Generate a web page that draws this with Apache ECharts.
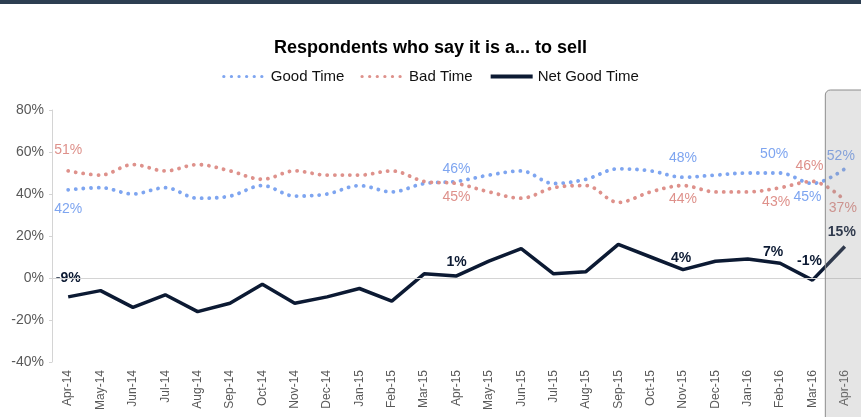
<!DOCTYPE html>
<html>
<head>
<meta charset="utf-8">
<script src="https://cdn.jsdelivr.net/npm/echarts@6/dist/echarts.min.js"></script>
<style>
html,body{margin:0;padding:0;background:#fff;}
#chart{width:861px;height:417px;}
</style>
</head>
<body>
<div id="chart"></div>
<script>
var categories = ['Apr-14','May-14','Jun-14','Jul-14','Aug-14','Sep-14','Oct-14','Nov-14','Dec-14','Jan-15','Feb-15','Mar-15','Apr-15','May-15','Jun-15','Jul-15','Aug-15','Sep-15','Oct-15','Nov-15','Dec-15','Jan-16','Feb-16','Mar-16','Apr-16'];
var goodTime = [42,43,40,43,38,39,44,39,40,44,41,45,46,49,51,45,47,52,51,48,49,50,50,45,52];
var badTime  = [51,49,54,51,54,51,47,51,49,49,51,46,45,41,38,43,44,36,41,44,41,41,43,46,37];
var netGood  = [-9,-6,-14,-8,-16,-12,-3,-12,-9,-5,-11,2,1,8,14,2,3,16,10,4,8,9,7,-1,15];
var yTicks = [-40,-20,0,20,40,60,80];
var labeledIdx = [0,12,19,22,23,24];

var FONT = '"Liberation Sans", Arial, sans-serif';
var BLUE = '#7ea5f0', RED = '#de918b', NAVY = '#0c1a33';

// label placement per labeled index: [position, distance, xOffset]
var goodPos = {0:['bottom',12,0],12:['top',5,0],19:['top',12,0],22:['top',11,-6],23:['bottom',6,-5],24:['top',5,-4]};
var badPos  = {0:['top',13,0],12:['bottom',6,0],19:['bottom',6,0],22:['bottom',7,-4],23:['top',8,-3],24:['bottom',0,-2]};
var netPos  = {0:['top',11,0],12:['top',6,0],19:['top',4,-2],22:['top',4,-7],23:['top',11,-3],24:['top',7,-3]};

function buildData(values, posMap, color, bold){
  return values.map(function(v,i){
    if(labeledIdx.indexOf(i) < 0) return v;
    var p = posMap[i];
    return {value:v, label:{show:true, position:p[0], distance:p[1], offset:[p[2],0],
      formatter:function(d){return d.value+'%';}, color:color, fontSize:14,
      fontWeight: bold?'bold':'normal', fontFamily:FONT}};
  });
}

function lineSeries(name, values, posMap, color, bold, lineStyle, smooth, z){
  return {name:name, type:'line', data:buildData(values, posMap, color, bold), smooth:smooth,
    symbol:'circle', symbolSize:1, showSymbol:true, showAllSymbol:true,
    itemStyle:{color:'rgba(0,0,0,0)', borderWidth:0},
    lineStyle:lineStyle, z:z, emphasis:{disabled:true}};
}

var chart = echarts.init(document.getElementById('chart'), null, {renderer:'canvas'});
var dotted = function(c){ return {color:c, width:3.8, type:[0.1,7.5], cap:'round'}; };
var sGood = lineSeries('Good Time', goodTime, goodPos, BLUE, false, dotted(BLUE), 0.35, 3);
sGood.markLine = {silent:true, symbol:'none', label:{show:false},
  lineStyle:{color:'#d4d4d4', width:1, type:'solid'}, data:[{yAxis:0}]};
var sBad = lineSeries('Bad Time', badTime, badPos, RED, false, dotted(RED), 0.35, 3);
var sNet = lineSeries('Net Good Time', netGood, netPos, NAVY, true, {color:NAVY, width:3.5}, false, 4);

var option = {
  animation:false,
  backgroundColor:'#fff',
  title:{text:'Respondents who say it is a... to sell', left:'center', top:34,
    textStyle:{fontFamily:FONT, fontSize:18, fontWeight:'bold', color:'#000'}},
  legend:{top:64, left:'center', itemWidth:42, itemHeight:8, itemGap:16,
    textStyle:{fontFamily:FONT, fontSize:15, color:'#111'},
    data:[
      {name:'Good Time', itemStyle:{opacity:0}, lineStyle:{color:BLUE, width:3.2, type:[0.1,7.5], cap:'round'}},
      {name:'Bad Time', itemStyle:{opacity:0}, lineStyle:{color:RED, width:3.2, type:[0.1,7.5], cap:'round'}},
      {name:'Net Good Time', itemStyle:{opacity:0}, lineStyle:{color:NAVY, width:4, type:'solid'}}
    ]},
  grid:{left:52, top:110, width:810, height:252, containLabel:false},
  xAxis:{type:'category', data:categories, boundaryGap:true,
    axisLine:{show:false}, axisTick:{show:false},
    axisLabel:{rotate:90, fontFamily:FONT, fontSize:12, color:'#595959', margin:8, interval:0}},
  yAxis:{type:'value', min:yTicks[0], max:yTicks[yTicks.length-1], interval:20,
    axisLine:{show:true, lineStyle:{color:'#d4d4d4'}},
    axisTick:{show:true, length:3, lineStyle:{color:'#d4d4d4'}},
    splitLine:{show:false},
    axisLabel:{formatter:'{value}%', fontFamily:FONT, fontSize:14, color:'#595959', margin:8}},
  series:[sGood, sBad, sNet]
};
chart.setOption(option);

// highlight box around last category + top bar
var last = categories.length-1;
var cx = chart.convertToPixel({xAxisIndex:0}, categories[last]);
var yTop = chart.convertToPixel({yAxisIndex:0}, yTicks[yTicks.length-1]);
chart.setOption({graphic:[
  {type:'rect', shape:{x:0,y:0,width:861,height:4}, style:{fill:'#2d3e51'}, z:100},
  {type:'rect', shape:{x:cx-19.5, y:yTop-20, width:60, height:400, r:5},
   style:{fill:'rgba(150,150,150,0.25)', stroke:'#8c8c8c', lineWidth:1}, z:100}
]});
</script>
</body>
</html>
